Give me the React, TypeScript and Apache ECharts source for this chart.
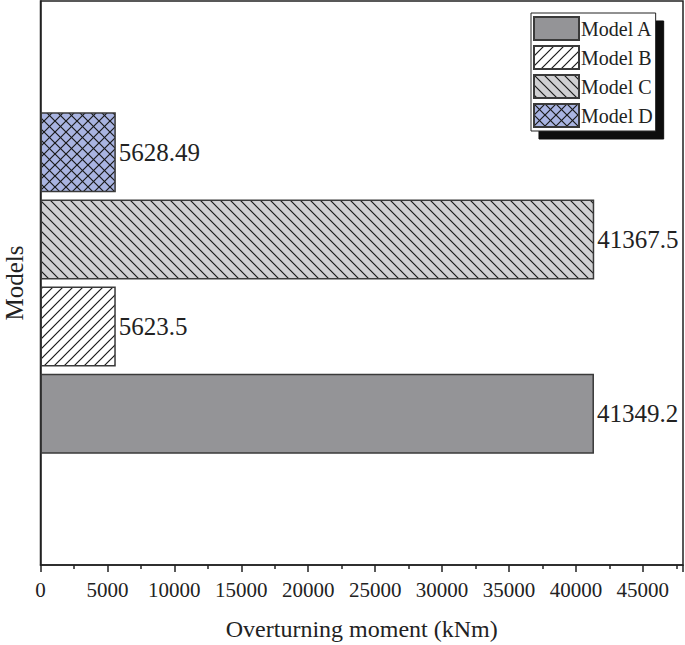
import React, { useEffect, useRef } from "react";
import * as echarts from "echarts";

const categories = [""];
const seriesNames = ["Model A", "Model B", "Model C", "Model D"];
const modelA = [41349.2];
const modelB = [5623.5];
const modelC = [41367.5];
const modelD = [5628.49];
const xTicks = [0, 5000, 10000, 15000, 20000, 25000, 30000, 35000, 40000, 45000];

function makePattern(kind: string, bg: string, size: number): any {
  const c = document.createElement("canvas");
  c.width = size;
  c.height = size;
  const ctx = c.getContext("2d")!;
  ctx.fillStyle = bg;
  ctx.fillRect(0, 0, size, size);
  ctx.strokeStyle = "#1a1a1a";
  ctx.lineWidth = 1.2;
  const s = size;
  const fwd = () => {
    ctx.beginPath();
    ctx.moveTo(-s / 2, s / 2); ctx.lineTo(s / 2, -s / 2);
    ctx.moveTo(0, s); ctx.lineTo(s, 0);
    ctx.moveTo(s / 2, s * 1.5); ctx.lineTo(s * 1.5, s / 2);
    ctx.stroke();
  };
  const back = () => {
    ctx.beginPath();
    ctx.moveTo(-s / 2, s / 2); ctx.lineTo(s / 2, s * 1.5);
    ctx.moveTo(0, 0); ctx.lineTo(s, s);
    ctx.moveTo(s / 2, -s / 2); ctx.lineTo(s * 1.5, s / 2);
    ctx.stroke();
  };
  if (kind === "fwd") fwd();
  if (kind === "back") back();
  if (kind === "cross") { fwd(); back(); }
  return { image: c.toDataURL(), repeat: "repeat", imageWidth: size, imageHeight: size };
}

export default function App() {
  const ref = useRef<HTMLDivElement>(null);
  useEffect(() => {
    const chart = echarts.init(ref.current!, null, { renderer: "svg" });
    const font = "'Liberation Serif', 'Times New Roman', serif";
    const border = { borderColor: "#3a3a3a", borderWidth: 1.5 };
    const colors = [
      "#949497",
      makePattern("fwd", "#ffffff", 10),
      makePattern("back", "#d0d0d2", 10),
      makePattern("cross", "#a9b4e1", 11),
    ];
    const datas = [modelA, modelB, modelC, modelD];
    // series listed in reverse so Model A sits at the bottom
    const order = [3, 2, 1, 0];
    chart.setOption({
      animation: false,
      backgroundColor: "#ffffff",
      grid: {
        left: 40.5, right: 2, top: 1, bottom: 80,
        outerBoundsMode: "none",
        containLabel: false,
        show: true, borderColor: "#222", borderWidth: 1.5,
      },
      legend: {
        orient: "vertical",
        left: 531, top: 13,
        padding: [3, 3, 3, 2],
        itemWidth: 45, itemHeight: 23, itemGap: 4,
        icon: "rect",
        backgroundColor: "#fff",
        borderColor: "#222", borderWidth: 1,
        shadowColor: "#111", shadowBlur: 0, shadowOffsetX: 8, shadowOffsetY: 8,
        textStyle: { fontFamily: font, fontSize: 20, color: "#222", padding: [0, 0, 0, -3] },
        data: seriesNames,
      },
      xAxis: {
        type: "value",
        min: 0, max: 48000, interval: 5000,
        name: "Overturning moment (kNm)",
        nameLocation: "middle", nameGap: 52,
        nameTextStyle: { fontFamily: font, fontSize: 24, color: "#222" },
        axisLine: { show: true, lineStyle: { color: "#222", width: 1.5 } },
        axisTick: { show: true, length: 7, lineStyle: { color: "#222", width: 1.5 } },
        minorTick: { show: true, splitNumber: 2, length: 4, lineStyle: { color: "#222", width: 1.5 } },
        splitLine: { show: false },
        axisLabel: {
          fontFamily: font, fontSize: 21, color: "#222", margin: 14, showMaxLabel: false,
          formatter: (v: number) => (xTicks.indexOf(v) >= 0 ? String(v) : ""),
        },
      },
      yAxis: {
        type: "category",
        data: categories,
        name: "Models",
        nameLocation: "middle", nameGap: 14, nameRotate: 90,
        nameTextStyle: { fontFamily: font, fontSize: 25, color: "#222" },
        axisLine: { show: true, lineStyle: { color: "#222", width: 1.5 } },
        axisTick: { show: false },
        axisLabel: { show: false },
      },
      series: order.map((i) => ({
        name: seriesNames[i],
        type: "bar",
        data: datas[i],
        barWidth: 80,
        barGap: "9%",
        itemStyle: { color: colors[i], ...border },
        label: {
          show: true, position: "right", distance: 3,
          fontFamily: font, fontSize: 25, color: "#222",
        },
      })),
    });
    return () => chart.dispose();
  }, []);
  return <div ref={ref} style={{ width: 685, height: 645, position: "absolute", left: 0, top: 0 }} />;
}
